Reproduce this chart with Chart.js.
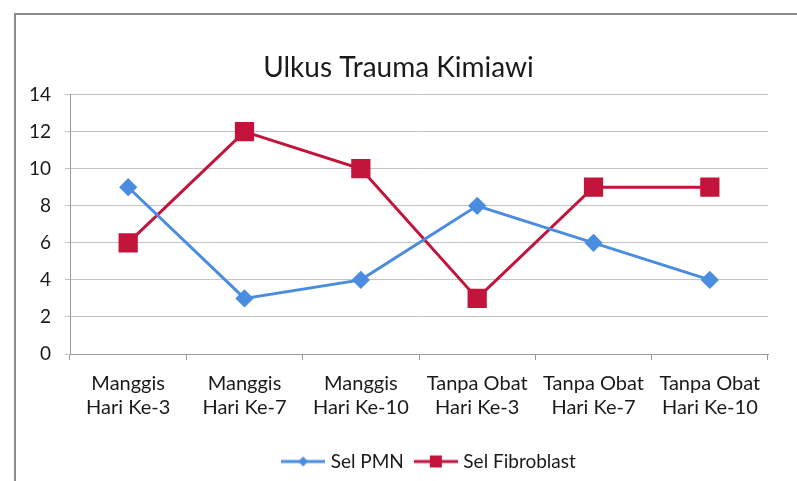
<!doctype html>
<html>
<head>
<title>Ulkus Trauma Kimiawi</title>
<script src="https://cdn.jsdelivr.net/npm/chart.js@4.4.0/dist/chart.umd.min.js"></script>
<style>
	html, body { margin: 0; padding: 0; background: #fff; overflow: hidden; }
	#wrap { position: relative; width: 797px; height: 481px; }
	#frame { position: absolute; left: 14px; top: 13px; width: 900px; height: 600px; border: 2px solid #8c8c8c; }
	canvas { position: absolute; left: 0; top: 0; }
</style>
</head>
<body>
<div id="wrap">
	<div id="frame"></div>
	<canvas id="canvas" width="797" height="481"></canvas>
</div>
<script>
	var categories = [
		['Manggis', 'Hari Ke-3'],
		['Manggis', 'Hari Ke-7'],
		['Manggis', 'Hari Ke-10'],
		['Tanpa Obat', 'Hari Ke-3'],
		['Tanpa Obat', 'Hari Ke-7'],
		['Tanpa Obat', 'Hari Ke-10']
	];
	var selPMN = [9, 3, 4, 8, 6, 4];
	var selFibroblast = [6, 12, 10, 3, 9, 9];

	var blue = '#4a8de0';
	var red = '#c3143c';
	var font = 'Lato';

	// legend icon: short line with the marker in the middle
	function legendIcon(color, style) {
		var c = document.createElement('canvas');
		c.width = 44;
		c.height = 16;
		var g = c.getContext('2d');
		g.strokeStyle = color;
		g.lineWidth = 3;
		g.beginPath();
		g.moveTo(0, 8);
		g.lineTo(44, 8);
		g.stroke();
		g.fillStyle = color;
		if (style === 'rect') {
			g.fillRect(16, 2, 12, 12);
		} else {
			g.beginPath();
			g.moveTo(22, 3);
			g.lineTo(27, 8);
			g.lineTo(22, 13);
			g.lineTo(17, 8);
			g.closePath();
			g.fill();
		}
		return c;
	}
	var icons = [legendIcon(blue, 'rectRot'), legendIcon(red, 'rect')];

	// nudge the legend to the right like the original
	var legendShift = {
		id: 'legendShift',
		afterLayout: function(chart) {
			chart.legend.left += 32;
			chart.legend.right += 32;
		}
	};

	var config = {
		type: 'line',
		data: {
			labels: categories,
			datasets: [{
				label: 'Sel PMN',
				data: selPMN,
				borderColor: blue,
				backgroundColor: blue,
				borderWidth: 3,
				pointStyle: 'rectRot',
				pointRadius: 7,
				pointHoverRadius: 7,
				fill: false,
				tension: 0
			}, {
				label: 'Sel Fibroblast',
				data: selFibroblast,
				borderColor: red,
				backgroundColor: red,
				borderWidth: 3,
				pointStyle: 'rect',
				pointRadius: 11.5,
				pointHoverRadius: 11.5,
				fill: false,
				tension: 0
			}]
		},
		options: {
			responsive: false,
			animation: false,
			layout: { padding: { left: 0, right: 0, top: 0, bottom: 0 } },
			plugins: {
				title: {
					display: true,
					text: 'Ulkus Trauma Kimiawi',
					color: '#1a1a1a',
					font: { family: font, size: 28, weight: 'normal', lineHeight: 1.2 },
					padding: { top: 51, bottom: 10 }
				},
				legend: {
					position: 'bottom',
					labels: {
						color: '#1a1a1a',
						font: { family: font, size: 19 },
						usePointStyle: true,
						pointStyleWidth: 36,
						padding: 14,
						generateLabels: function(chart) {
							return chart.data.datasets.map(function(ds, i) {
								return {
									text: ds.label,
									pointStyle: icons[i],
									fillStyle: ds.backgroundColor,
									strokeStyle: ds.borderColor,
									lineWidth: 0,
									fontColor: '#1a1a1a',
									datasetIndex: i,
									hidden: false
								};
							});
						}
					}
				},
				tooltip: { enabled: false }
			},
			scales: {
				x: {
					offset: true,
					grid: {
						offset: true,
						drawOnChartArea: false,
						drawTicks: true,
						tickLength: 6,
						color: '#9a9a9a'
					},
					border: { color: '#9a9a9a', width: 1 },
					ticks: {
						color: '#1a1a1a',
						font: { family: font, size: 20, lineHeight: 1.2 },
						padding: 12,
						maxRotation: 0,
						autoSkip: false
					},
					afterFit: function(scale) { scale.height = 84; }
				},
				y: {
					min: 0,
					max: 14,
					ticks: {
						stepSize: 2,
						color: '#1a1a1a',
						font: { family: font, size: 19 },
						padding: 14
					},
					grid: { color: '#c4c4c4', tickLength: 5 },
					border: { color: '#9a9a9a', width: 1 },
					afterFit: function(scale) { scale.width = 70; }
				},
				// empty right-hand box so the plot ends where the original does
				y2: {
					position: 'right',
					min: 0,
					max: 14,
					grid: { drawOnChartArea: false, drawTicks: false },
					border: { display: false },
					ticks: { display: false },
					afterFit: function(scale) { scale.width = 29; }
				}
			}
		},
		plugins: [legendShift]
	};

	window.onload = function() {
		var ctx = document.getElementById('canvas').getContext('2d');
		window.myLine = new Chart(ctx, config);
	};
</script>
</body>
</html>
